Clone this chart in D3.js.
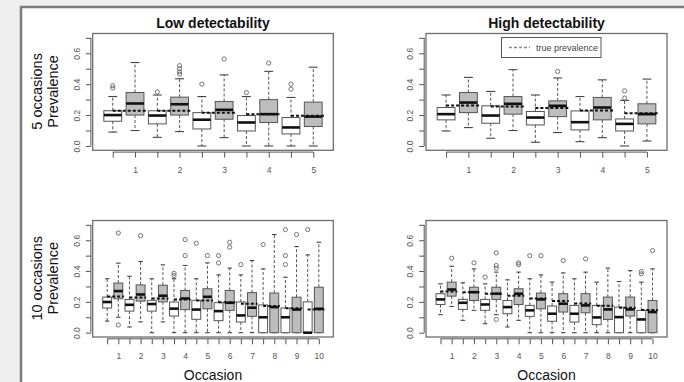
<!DOCTYPE html>
<html><head><meta charset="utf-8">
<script src="https://cdn.jsdelivr.net/npm/d3@7"></script>
<style>html,body{margin:0;padding:0;background:#efefef;} svg{display:block;}</style>
</head><body>
<svg id="c" width="684" height="382"></svg>
<script>
// ---- data ----
const yTicks = [0, 0.1, 0.2, 0.3, 0.4, 0.5, 0.6, 0.7];
const yTickLabels = ["0.0", "", "0.2", "", "0.4", "", "0.6", ""];
const occasions5 = ["1", "2", "3", "4", "5"];
const occasions10 = ["1", "2", "3", "4", "5", "6", "7", "8", "9", "10"];
const colTitles = ["Low detectability", "High detectability"];
const rowLabels = ["5 occasions", "10 occasions"];
const yLabel = "Prevalence";
const xLabel = "Occasion";
const legendLabel = "true prevalence";

// box stats per box: [lower whisker, Q1, median, Q3, upper whisker]; boxes alternate white / gray
const low5Stats = [
  [0.09, 0.16, 0.20, 0.228, 0.32], [0.10, 0.20, 0.275, 0.346, 0.54],
  [0.056, 0.143, 0.197, 0.228, 0.33], [0.093, 0.20, 0.27, 0.316, 0.435],
  [0.0, 0.11, 0.17, 0.216, 0.32], [0.054, 0.173, 0.234, 0.288, 0.46],
  [0.0, 0.097, 0.152, 0.197, 0.32], [0.0, 0.152, 0.206, 0.30, 0.483],
  [0.0, 0.078, 0.12, 0.184, 0.314], [0.0, 0.126, 0.19, 0.284, 0.51]
];
const low5Outliers = [[0.375, 0.39], [], [0.35], [0.465, 0.48, 0.50, 0.52], [0.40], [0.563], [0.346], [0.537], [0.368, 0.40], []];
const low5True = [0.228, 0.228, 0.215, 0.205, 0.195];

const high5Stats = [
  [0.097, 0.169, 0.206, 0.249, 0.33], [0.119, 0.216, 0.281, 0.346, 0.444],
  [0.05, 0.147, 0.197, 0.26, 0.353], [0.10, 0.206, 0.273, 0.32, 0.494],
  [0.024, 0.136, 0.184, 0.223, 0.33], [0.087, 0.19, 0.26, 0.292, 0.44],
  [0.028, 0.104, 0.154, 0.227, 0.32], [0.054, 0.169, 0.249, 0.314, 0.428],
  [0.0, 0.097, 0.143, 0.175, 0.295], [0.032, 0.143, 0.206, 0.273, 0.433]
];
const high5Outliers = [[], [], [], [], [], [0.482], [], [], [0.31, 0.357], []];
const high5True = [0.262, 0.255, 0.245, 0.23, 0.212];

const low10Stats = [
  [0.075, 0.16, 0.199, 0.231, 0.35], [0.10, 0.22, 0.27, 0.322, 0.451],
  [0.037, 0.14, 0.181, 0.216, 0.366], [0.07, 0.205, 0.248, 0.31, 0.462],
  [0.0, 0.14, 0.186, 0.21, 0.35], [0.07, 0.2, 0.24, 0.308, 0.44],
  [0.0, 0.108, 0.156, 0.199, 0.35], [0.0, 0.15, 0.222, 0.274, 0.436],
  [0.0, 0.087, 0.15, 0.21, 0.35], [0.0, 0.155, 0.233, 0.285, 0.453],
  [0.0, 0.078, 0.14, 0.195, 0.375], [0.0, 0.145, 0.194, 0.274, 0.419],
  [0.0, 0.069, 0.112, 0.2, 0.375], [0.0, 0.106, 0.162, 0.26, 0.468],
  [0.0, 0.0, 0.10, 0.18, 0.414], [0.0, 0.0, 0.166, 0.257, 0.637],
  [0.0, 0.0, 0.10, 0.16, 0.36], [0.0, 0.0, 0.15, 0.23, 0.559],
  [0.0, 0.0, 0.0, 0.20, 0.505], [0.0, 0.0, 0.155, 0.295, 0.587]
];
const low10Outliers = [[], [0.647, 0.05], [], [0.63], [], [], [0.37, 0.385], [0.50, 0.604], [0.58], [0.50],
  [0.453, 0.50], [0.555, 0.587], [0.442], [], [0.572], [], [0.442, 0.50, 0.669], [0.637], [0.669], []];
const low10True = [0.235, 0.228, 0.222, 0.216, 0.209, 0.198, 0.188, 0.173, 0.158, 0.15];

const high10Stats = [
  [0.117, 0.183, 0.216, 0.253, 0.317], [0.17, 0.237, 0.28, 0.328, 0.431],
  [0.08, 0.151, 0.194, 0.216, 0.324], [0.145, 0.209, 0.263, 0.295, 0.414],
  [0.058, 0.145, 0.183, 0.216, 0.317], [0.117, 0.216, 0.253, 0.295, 0.393],
  [0.037, 0.123, 0.166, 0.209, 0.343], [0.08, 0.183, 0.253, 0.285, 0.393],
  [0.0, 0.106, 0.145, 0.177, 0.35], [0.0, 0.155, 0.216, 0.257, 0.375],
  [0.0, 0.074, 0.123, 0.173, 0.328], [0.0, 0.134, 0.188, 0.253, 0.388],
  [0.0, 0.069, 0.123, 0.177, 0.35], [0.0, 0.129, 0.177, 0.253, 0.393],
  [0.0, 0.052, 0.099, 0.177, 0.328], [0.0, 0.086, 0.151, 0.231, 0.419],
  [0.0, 0.0, 0.101, 0.166, 0.332], [0.0, 0.108, 0.151, 0.231, 0.403],
  [0.0, 0.0, 0.086, 0.145, 0.328], [0.0, 0.0, 0.134, 0.209, 0.414]
];
const high10Outliers = [[], [0.483], [], [0.453], [0.36], [0.086, 0.419, 0.436, 0.518], [], [0.442, 0.453], [0.50], [0.50],
  [], [0.468], [], [0.479], [], [], [], [], [0.382, 0.397], [0.533]];
const high10True = [0.268, 0.262, 0.252, 0.24, 0.222, 0.205, 0.19, 0.175, 0.162, 0.148];

// ---- drawing ----
const svg = d3.select("#c");
const FONT = "'Liberation Sans', Arial, Helvetica, sans-serif";
svg.append("rect").attr("x", 0).attr("y", 0).attr("width", 684).attr("height", 382).attr("fill", "#efefef");
svg.append("rect").attr("x", 22).attr("y", 8).attr("width", 662).attr("height", 374).attr("fill", "#ffffff");
svg.append("line").attr("x1", 20).attr("x2", 684).attr("y1", 7).attr("y2", 7).attr("stroke", "#7d7d7d").attr("stroke-width", 2.5);
svg.append("line").attr("x1", 21).attr("x2", 21).attr("y1", 6).attr("y2", 382).attr("stroke", "#7d7d7d").attr("stroke-width", 2.5);

const panels = [
  {stats: low5Stats, out: low5Outliers, tp: low5True, occ: occasions5, x0: 92.7, x1: 333.3, yT: 33.5, yB: 150.3, title: colTitles[0], row: rowLabels[0], legend: false, xlab: false},
  {stats: high5Stats, out: high5Outliers, tp: high5True, occ: occasions5, x0: 426, x1: 667, yT: 33.5, yB: 150.3, title: colTitles[1], row: null, legend: true, xlab: false},
  {stats: low10Stats, out: low10Outliers, tp: low10True, occ: occasions10, x0: 92.7, x1: 333.3, yT: 220.5, yB: 337, title: null, row: rowLabels[1], legend: false, xlab: true},
  {stats: high10Stats, out: high10Outliers, tp: high10True, occ: occasions10, x0: 426, x1: 667, yT: 220.5, yB: 337, title: null, row: null, legend: false, xlab: true}
];

panels.forEach(p => {
  const n = p.stats.length;
  const pad = n * 0.04;
  const x = d3.scaleLinear().domain([0.5 - pad, n + 0.5 + pad]).range([p.x0, p.x1]);
  const y = d3.scaleLinear().domain([-0.028, 0.728]).range([p.yB, p.yT]);
  const g = svg.append("g");

  // frame
  g.append("rect").attr("x", p.x0).attr("y", p.yT).attr("width", p.x1 - p.x0).attr("height", p.yB - p.yT)
    .attr("fill", "none").attr("stroke", "#6e6e6e").attr("stroke-width", 1.3);

  // y axis
  const yAx = g.append("g").attr("transform", `translate(${p.x0 - 1.8},0)`)
    .call(d3.axisLeft(y).tickValues(yTicks).tickFormat((d, i) => yTickLabels[i]).tickSize(5).tickPadding(0));
  yAx.select(".domain").remove();
  yAx.append("line").attr("x1", 0).attr("x2", 0).attr("y1", y(yTicks[0])).attr("y2", y(yTicks[yTicks.length - 1])).attr("stroke", "#555");
  yAx.selectAll(".tick line").attr("stroke", "#555");
  yAx.selectAll(".tick text").attr("x", null).attr("dy", null)
    .attr("transform", "translate(-11,0) rotate(-90)").attr("text-anchor", "middle")
    .attr("font-family", FONT).attr("font-size", 8.5).attr("fill", "#555");

  // x axis
  const xAx = g.append("g").attr("transform", `translate(0,${p.yB + 1.8})`)
    .call(d3.axisBottom(x).tickValues(d3.range(1, n + 1)).tickFormat(i => i % 2 === 0 ? p.occ[i / 2 - 1] : "").tickSize(5.5).tickPadding(9));
  xAx.select(".domain").remove();
  xAx.append("line").attr("x1", x(1)).attr("x2", x(n)).attr("y1", 0).attr("y2", 0).attr("stroke", "#555");
  xAx.selectAll(".tick line").attr("stroke", "#555");
  xAx.selectAll(".tick text").attr("font-family", FONT).attr("font-size", 8.5).attr("fill", "#555");

  const hw = 0.4, cw = 0.2;
  const boxes = g.append("g").selectAll("g").data(p.stats).join("g");
  boxes.each(function(s, i) {
    const b = d3.select(this);
    const pos = i + 1;
    const cx = x(pos);
    const fill = i % 2 === 0 ? "#ffffff" : "#bdbdbd";
    // whiskers
    [[s[3], s[4]], [s[1], s[0]]].forEach(([a, e]) => {
      if (a !== e) {
        b.append("line").attr("x1", cx).attr("x2", cx).attr("y1", y(a)).attr("y2", y(e))
          .attr("stroke", "#555").attr("stroke-width", 1).attr("stroke-dasharray", "3,2");
      }
    });
    [s[0], s[4]].forEach(v => {
      b.append("line").attr("x1", x(pos - cw)).attr("x2", x(pos + cw)).attr("y1", y(v)).attr("y2", y(v))
        .attr("stroke", "#444").attr("stroke-width", 1.1);
    });
    b.append("rect").attr("x", x(pos - hw)).attr("y", y(s[3])).attr("width", x(pos + hw) - x(pos - hw))
      .attr("height", y(s[1]) - y(s[3])).attr("fill", fill).attr("stroke", "#555").attr("stroke-width", 1);
    b.append("line").attr("x1", x(pos - hw)).attr("x2", x(pos + hw)).attr("y1", y(s[2])).attr("y2", y(s[2]))
      .attr("stroke", "#111").attr("stroke-width", 2.6);
    p.out[i].forEach(v => {
      b.append("circle").attr("cx", cx).attr("cy", y(v)).attr("r", 2.1)
        .attr("fill", "none").attr("stroke", "#666").attr("stroke-width", 0.9);
    });
  });

  // true prevalence
  g.append("g").selectAll("line").data(p.tp).join("line")
    .attr("x1", (d, k) => x(2 * k + 1)).attr("x2", (d, k) => x(2 * k + 2.5))
    .attr("y1", d => y(d)).attr("y2", d => y(d))
    .attr("stroke", "#111").attr("stroke-width", 2).attr("stroke-dasharray", "3,2");

  const cxp = (p.x0 + p.x1) / 2;
  if (p.title) {
    svg.append("text").attr("x", cxp).attr("y", 28).attr("text-anchor", "middle")
      .attr("font-family", FONT).attr("font-weight", "bold").attr("font-size", 14).attr("fill", "#111").text(p.title);
  }
  if (p.row) {
    const cy = (p.yT + p.yB) / 2 - 0.5;
    svg.append("text").attr("transform", `translate(41.5,${cy}) rotate(-90)`).attr("text-anchor", "middle")
      .attr("font-family", FONT).attr("font-size", 14.5).attr("fill", "#111").text(p.row);
    svg.append("text").attr("transform", `translate(58,${cy}) rotate(-90)`).attr("text-anchor", "middle")
      .attr("font-family", FONT).attr("font-size", 14.5).attr("fill", "#111").text(yLabel);
  }
  if (p.xlab) {
    svg.append("text").attr("x", cxp).attr("y", 380).attr("text-anchor", "middle")
      .attr("font-family", FONT).attr("font-size", 14).attr("fill", "#111").text(xLabel);
  }
  if (p.legend) {
    const lg = svg.append("g");
    lg.append("rect").attr("x", 501.5).attr("y", 37.5).attr("width", 99.5).attr("height", 20)
      .attr("fill", "#fff").attr("stroke", "#555").attr("stroke-width", 1);
    lg.append("line").attr("x1", 509).attr("x2", 530).attr("y1", 47.5).attr("y2", 47.5)
      .attr("stroke", "#888").attr("stroke-width", 1.3).attr("stroke-dasharray", "3,2");
    lg.append("text").attr("x", 536).attr("y", 50.5).attr("font-family", FONT).attr("font-size", 9)
      .attr("fill", "#444").text(legendLabel);
  }
});
</script>
</body></html>
